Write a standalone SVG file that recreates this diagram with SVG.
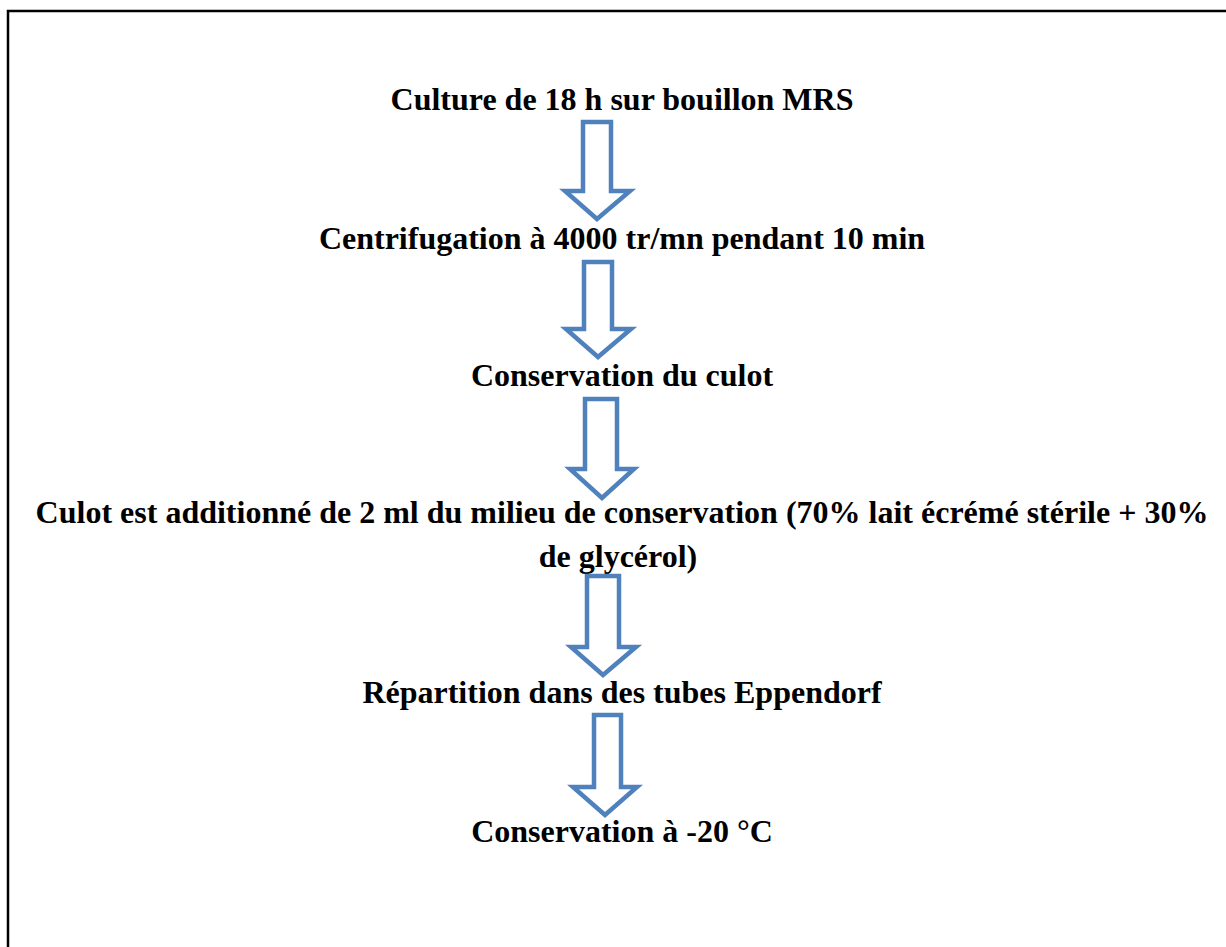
<svg xmlns="http://www.w3.org/2000/svg" width="1226" height="947" viewBox="0 0 1226 947">
<style>
.t{font-family:"Liberation Serif","Times New Roman",serif;font-weight:bold;font-size:32px;fill:#000;text-anchor:middle}
.a{fill:#fff;stroke:#4f81bd;stroke-width:4.5;stroke-linejoin:miter}
</style>
<rect width="1226" height="947" fill="#fff"/>
<g id="frame"><path d="M8,947 V11 H1226" fill="none" stroke="#000" stroke-width="2.5"/></g>
<g id="n1"><text class="t" x="622" y="110">Culture de 18 h sur bouillon MRS</text></g>
<g id="n2"><text class="t" x="622" y="249">Centrifugation à 4000 tr/mn pendant 10 min</text></g>
<g id="n3"><text class="t" x="622" y="386">Conservation du culot</text></g>
<g id="n4"><text class="t" x="622" y="523">Culot est additionné de 2 ml du milieu de conservation (70% lait écrémé stérile + 30%</text><text class="t" x="618" y="567">de glycérol)</text></g>
<g id="n5"><text class="t" x="622" y="703">Répartition dans des tubes Eppendorf</text></g>
<g id="n6"><text class="t" x="622" y="842">Conservation à -20 °C</text></g>
<g id="connectors">
<path class="a" d="M583,122 H611 V191 H630 L597,219 L565,191 H583 Z"/>
<path class="a" d="M584,262 H612 V329 H631 L598,357 L566,329 H584 Z"/>
<path class="a" d="M585,399 H617 V469 H634 L602,498 L570,469 H585 Z"/>
<path class="a" d="M587,576 H619 V647 H636 L603,675 L571,647 H587 Z"/>
<path class="a" d="M594,715 H621 V787 H637 L605,815 L573,787 H594 Z"/>
</g>
</svg>
